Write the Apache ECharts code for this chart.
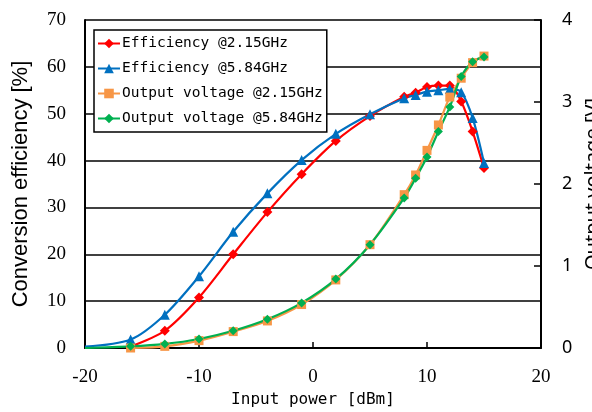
<!DOCTYPE html>
<html>
<head>
<meta charset="UTF-8">
<title></title>
<script src="https://cdn.jsdelivr.net/npm/echarts@6/dist/echarts.min.js"></script>
</head>
<body style="margin:0;background:#fff;">
<div id="main" style="width:592px;height:412px;"></div>
<script type="text/javascript">
// input power [dBm]
var effX21 = [-16, -13, -10, -7, -4, -1, 2, 5, 8, 9, 10, 11, 12, 13, 14, 15];
var effX58 = [-20, -16, -13, -10, -7, -4, -1, 2, 5, 8, 9, 10, 11, 12, 13, 14, 15];
var voltX21 = [-16, -13, -10, -7, -4, -1, 2, 5, 8, 9, 10, 11, 12, 13, 14, 15];
var voltX58 = [-20, -16, -13, -10, -7, -4, -1, 2, 5, 8, 9, 10, 11, 12, 13, 14, 15];

// efficiency [%]
var eff21 = [0.3, 3.7, 10.8, 20, 29, 37.1, 44.2, 49.5, 53.6, 54.5, 55.7, 56, 56, 52.6, 46.2, 38.4];
var eff58 = [0.3, 1.8, 7.1, 15.3, 24.8, 33, 40.1, 45.7, 49.9, 53.3, 54, 54.7, 55, 55.3, 54.6, 49.1, 39.5];

// output voltage [V]
var volt21 = [0, 0.02, 0.09, 0.2, 0.33, 0.53, 0.83, 1.26, 1.87, 2.11, 2.41, 2.72, 3.06, 3.29, 3.48, 3.56];
var volt58 = [0, 0.02, 0.05, 0.11, 0.21, 0.35, 0.55, 0.84, 1.26, 1.83, 2.07, 2.33, 2.64, 2.94, 3.31, 3.49, 3.55];

var names = ['Efficiency @2.15GHz', 'Efficiency @5.84GHz', 'Output voltage @2.15GHz', 'Output voltage @5.84GHz'];
var colors = ['#ff0000', '#0070c0', '#f79646', '#00b050'];

function pairs(xs, ys) {
    return xs.map(function (x, i) { return [x, ys[i]]; });
}

var myChart = echarts.init(document.getElementById('main'));

function mkSeries(i, xs, ys, axisIdx, symbol, size) {
    return {
        name: names[i],
        type: 'line',
        yAxisIndex: axisIdx,
        smooth: 0.3,
        data: pairs(xs, ys),
        symbol: symbol,
        symbolSize: function (v) { return v[0] === -20 ? 0 : size; },
        lineStyle: { color: colors[i], width: 2.2 },
        itemStyle: { color: colors[i] },
        animation: false
    };
}

var option = {
    grid: { left: 85, right: 51, top: 20, bottom: 64, outerBoundsMode: 'none', containLabel: false },
    legend: {
        orient: 'vertical',
        left: 94,
        top: 30,
        padding: [6, 4, 6, 3],
        itemGap: 10,
        itemWidth: 22,
        itemHeight: 12,
        backgroundColor: '#fff',
        borderColor: '#000',
        borderWidth: 1.5,
        data: names,
        textStyle: { fontFamily: 'DejaVu Sans Mono', fontSize: 14.5, color: '#000', padding: [0, 0, 0, -3] }
    },
    xAxis: {
        type: 'value',
        min: -20, max: 20, interval: 10,
        name: 'Input power [dBm]',
        nameLocation: 'middle',
        nameGap: 42,
        nameTextStyle: { fontFamily: 'DejaVu Sans Mono', fontSize: 16, color: '#000' },
        axisLine: { show: true, onZero: false, lineStyle: { color: '#000', width: 2 } },
        axisTick: { show: true, inside: true, length: 6, lineStyle: { color: '#000', width: 1.5 } },
        axisLabel: { fontFamily: 'Liberation Serif', fontSize: 19, color: '#000', margin: 20 },
        splitLine: { show: false }
    },
    yAxis: [{
        type: 'value',
        min: 0, max: 70, interval: 10,
        name: 'Conversion efficiency [%]',
        nameLocation: 'middle',
        nameGap: 53,
        nameTextStyle: { fontFamily: 'Liberation Sans', fontSize: 22, color: '#000' },
        axisLine: { show: true, onZero: false, lineStyle: { color: '#000', width: 2 } },
        axisTick: { show: false },
        axisLabel: { fontFamily: 'Liberation Serif', fontSize: 19, color: '#000', margin: 19 },
        splitLine: { show: true, lineStyle: { color: '#000', width: 1.5 } }
    }, {
        type: 'value',
        min: 0, max: 4, interval: 1,
        name: 'Output voltage [V]',
        nameLocation: 'middle',
        nameGap: 37,
        nameTextStyle: { fontFamily: 'Noto Sans', fontSize: 20, color: '#000' },
        axisLine: { show: true, onZero: false, lineStyle: { color: '#000', width: 2 } },
        axisTick: { show: true, inside: true, length: 7, lineStyle: { color: '#000', width: 1.5 } },
        axisLabel: { fontFamily: 'Noto Sans', fontSize: 18, color: '#000', margin: 21 },
        splitLine: { show: false }
    }],
    series: [
        mkSeries(0, effX21, eff21, 0, 'diamond', 10),
        mkSeries(1, effX58, eff58, 0, 'triangle', 10),
        mkSeries(2, voltX21, volt21, 1, 'rect', 9),
        mkSeries(3, voltX58, volt58, 1, 'diamond', 9)
    ]
};
myChart.setOption(option);
</script>
</body>
</html>
